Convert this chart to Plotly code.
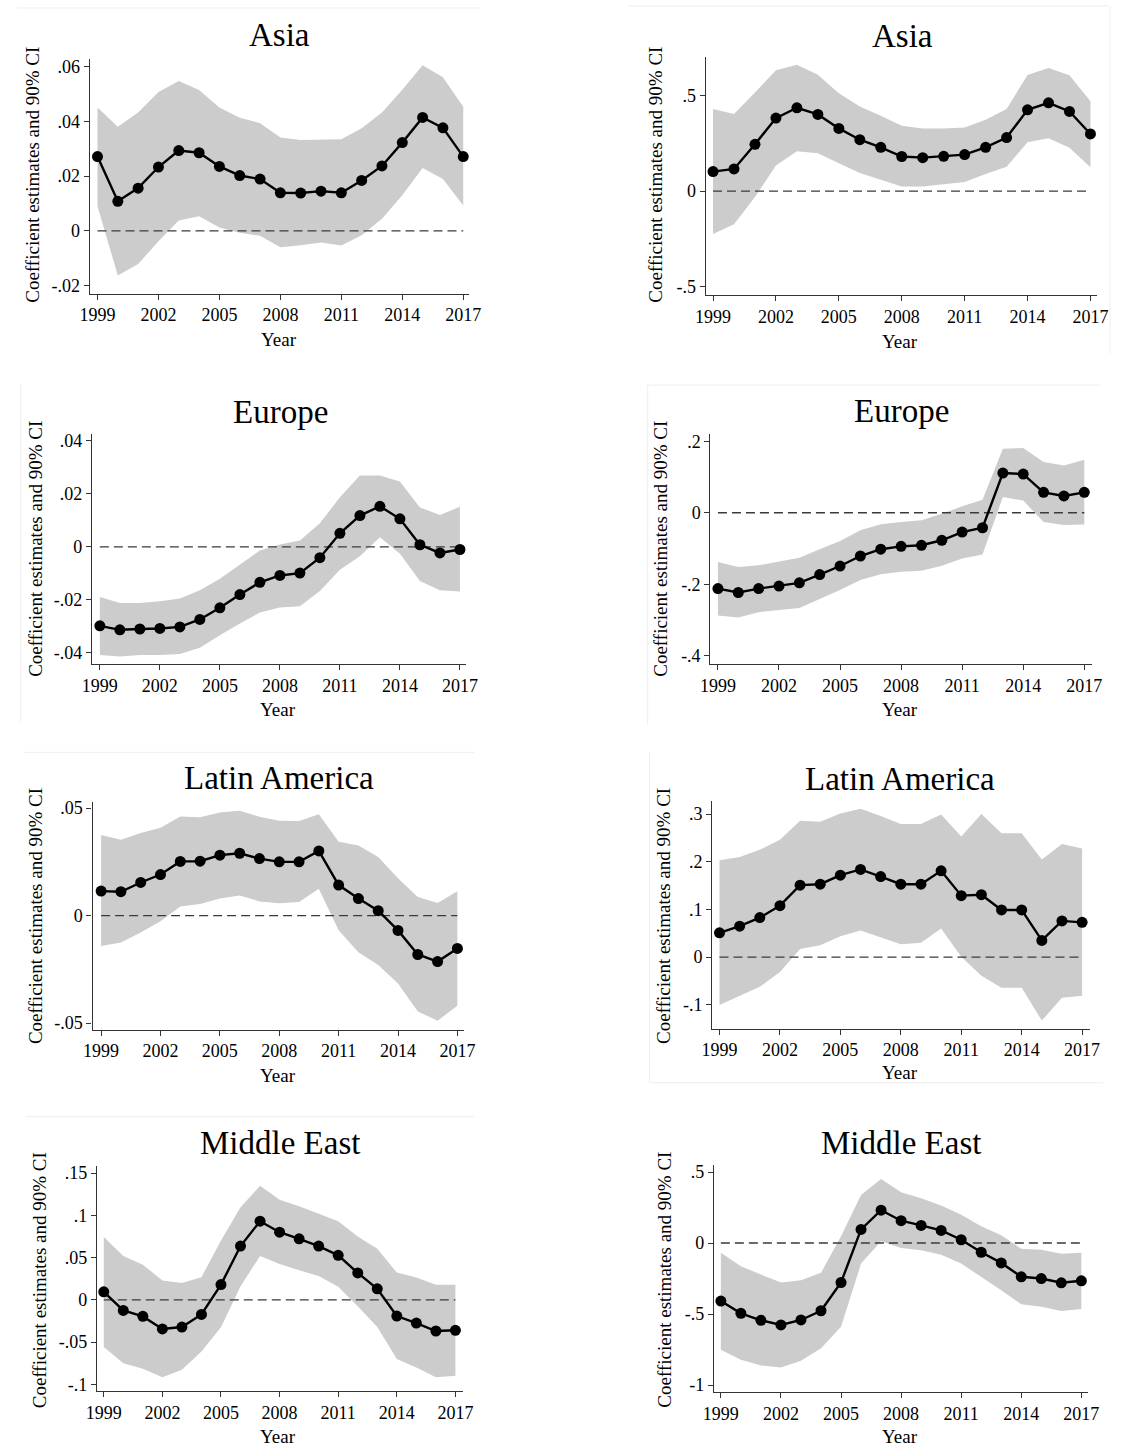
import plotly.graph_objects as go

W, H = 1124, 1451
FONT = "Liberation Serif"

years = list(range(1999, 2018))
x_ticks = [1999, 2002, 2005, 2008, 2011, 2014, 2017]

# ---------------- data ----------------
asia_l_coef = [0.0271, 0.0108, 0.0156, 0.0233, 0.0293, 0.0285, 0.0235, 0.0202, 0.0189, 0.0139, 0.0138, 0.0145, 0.0139, 0.0184, 0.0237, 0.0322, 0.0414, 0.0376, 0.0271]
asia_l_hi = [0.0450, 0.0380, 0.0432, 0.0507, 0.0547, 0.0514, 0.0450, 0.0413, 0.0393, 0.0341, 0.0332, 0.0332, 0.0334, 0.0374, 0.0432, 0.0515, 0.0604, 0.0560, 0.0453]
asia_l_lo = [0.0090, -0.0163, -0.0121, -0.0038, 0.0038, 0.0053, 0.0012, -0.0007, -0.0018, -0.0060, -0.0052, -0.0042, -0.0053, -0.0016, 0.0044, 0.0130, 0.0229, 0.0189, 0.0093]

asia_r_coef = [0.102, 0.116, 0.245, 0.382, 0.436, 0.401, 0.328, 0.269, 0.229, 0.181, 0.175, 0.182, 0.191, 0.229, 0.280, 0.425, 0.462, 0.417, 0.299]
asia_r_hi = [0.429, 0.403, 0.516, 0.632, 0.661, 0.609, 0.512, 0.443, 0.394, 0.342, 0.328, 0.328, 0.333, 0.373, 0.429, 0.608, 0.644, 0.606, 0.470]
asia_r_lo = [-0.224, -0.174, -0.031, 0.134, 0.208, 0.198, 0.146, 0.095, 0.059, 0.024, 0.024, 0.036, 0.047, 0.089, 0.128, 0.255, 0.276, 0.227, 0.125]

europe_l_coef = [-0.0298, -0.0313, -0.0310, -0.0308, -0.0302, -0.0274, -0.0230, -0.0180, -0.0134, -0.0108, -0.0099, -0.0041, 0.0051, 0.0118, 0.0153, 0.0106, 0.0008, -0.0023, -0.0010]
europe_l_hi = [-0.0189, -0.0212, -0.0212, -0.0205, -0.0195, -0.0164, -0.0120, -0.0068, -0.0014, 0.0009, 0.0024, 0.0089, 0.0187, 0.0269, 0.0269, 0.0247, 0.0149, 0.0120, 0.0151]
europe_l_lo = [-0.0408, -0.0414, -0.0408, -0.0408, -0.0404, -0.0381, -0.0334, -0.0289, -0.0248, -0.0229, -0.0224, -0.0167, -0.0086, -0.0035, 0.0036, -0.0026, -0.0129, -0.0164, -0.0168]

europe_r_coef = [-0.212, -0.223, -0.212, -0.205, -0.196, -0.173, -0.149, -0.121, -0.102, -0.094, -0.091, -0.077, -0.054, -0.042, 0.111, 0.108, 0.057, 0.047, 0.057]
europe_r_hi = [-0.138, -0.152, -0.147, -0.137, -0.126, -0.102, -0.079, -0.049, -0.032, -0.026, -0.021, -0.003, 0.018, 0.036, 0.179, 0.181, 0.142, 0.132, 0.148]
europe_r_lo = [-0.287, -0.293, -0.278, -0.272, -0.266, -0.241, -0.216, -0.188, -0.172, -0.165, -0.162, -0.148, -0.128, -0.117, 0.044, 0.034, -0.026, -0.034, -0.033]

latam_l_coef = [0.0114, 0.0111, 0.0154, 0.0191, 0.0252, 0.0253, 0.0281, 0.0290, 0.0265, 0.0250, 0.0250, 0.0301, 0.0142, 0.0079, 0.0023, -0.0069, -0.0181, -0.0214, -0.0153]
latam_l_hi = [0.0375, 0.0353, 0.0384, 0.0409, 0.0461, 0.0457, 0.0480, 0.0488, 0.0460, 0.0441, 0.0440, 0.0472, 0.0344, 0.0326, 0.0272, 0.0174, 0.0086, 0.0059, 0.0113]
latam_l_lo = [-0.0142, -0.0125, -0.0079, -0.0026, 0.0042, 0.0054, 0.0079, 0.0094, 0.0066, 0.0057, 0.0063, 0.0125, -0.0068, -0.0171, -0.0230, -0.0316, -0.0446, -0.0489, -0.0420]

latam_r_coef = [0.051, 0.065, 0.083, 0.108, 0.151, 0.153, 0.172, 0.184, 0.169, 0.153, 0.153, 0.181, 0.129, 0.131, 0.099, 0.099, 0.035, 0.076, 0.073]
latam_r_hi = [0.203, 0.210, 0.225, 0.246, 0.286, 0.284, 0.301, 0.311, 0.296, 0.279, 0.279, 0.299, 0.253, 0.300, 0.260, 0.260, 0.205, 0.237, 0.228]
latam_r_lo = [-0.100, -0.081, -0.062, -0.031, 0.017, 0.025, 0.044, 0.056, 0.042, 0.027, 0.030, 0.060, 0.001, -0.039, -0.064, -0.064, -0.133, -0.085, -0.081]

mideast_l_coef = [0.0094, -0.0126, -0.0196, -0.0345, -0.0322, -0.0173, 0.0180, 0.0636, 0.0930, 0.0800, 0.0722, 0.0636, 0.0526, 0.0318, 0.0130, -0.0192, -0.0275, -0.0369, -0.0361]
mideast_l_hi = [0.0742, 0.0518, 0.0416, 0.0228, 0.0200, 0.0267, 0.0703, 0.1095, 0.1350, 0.1185, 0.1107, 0.1017, 0.0930, 0.0750, 0.0604, 0.0322, 0.0263, 0.0177, 0.0177]
mideast_l_lo = [-0.0557, -0.0750, -0.0816, -0.0915, -0.0828, -0.0612, -0.0326, 0.0161, 0.0518, 0.0424, 0.0349, 0.0283, 0.0153, -0.0075, -0.0322, -0.0699, -0.0800, -0.0915, -0.0899]

mideast_r_coef = [-0.409, -0.495, -0.544, -0.577, -0.542, -0.477, -0.278, 0.096, 0.231, 0.157, 0.124, 0.089, 0.023, -0.065, -0.140, -0.238, -0.250, -0.280, -0.266]
mideast_r_hi = [-0.068, -0.164, -0.222, -0.278, -0.262, -0.210, 0.047, 0.339, 0.451, 0.357, 0.315, 0.264, 0.199, 0.119, 0.054, -0.040, -0.047, -0.075, -0.068]
mideast_r_lo = [-0.752, -0.822, -0.862, -0.876, -0.829, -0.741, -0.589, -0.145, 0.012, -0.035, -0.051, -0.082, -0.145, -0.238, -0.332, -0.432, -0.449, -0.479, -0.465]

asia_l_yticks = [-0.02, 0, 0.02, 0.04, 0.06]
asia_l_ylabels = ["-.02", "0", ".02", ".04", ".06"]
asia_r_yticks = [-0.5, 0, 0.5]
asia_r_ylabels = ["-.5", "0", ".5"]
europe_l_yticks = [-0.04, -0.02, 0, 0.02, 0.04]
europe_l_ylabels = ["-.04", "-.02", "0", ".02", ".04"]
europe_r_yticks = [-0.4, -0.2, 0, 0.2]
europe_r_ylabels = ["-.4", "-.2", "0", ".2"]
latam_l_yticks = [-0.05, 0, 0.05]
latam_l_ylabels = ["-.05", "0", ".05"]
latam_r_yticks = [-0.1, 0, 0.1, 0.2, 0.3]
latam_r_ylabels = ["-.1", "0", ".1", ".2", ".3"]
mideast_l_yticks = [-0.1, -0.05, 0, 0.05, 0.1, 0.15]
mideast_l_ylabels = ["-.1", "-.05", "0", ".05", ".1", ".15"]
mideast_r_yticks = [-1, -0.5, 0, 0.5]
mideast_r_ylabels = ["-1", "-.5", "0", ".5"]

titles = ["Asia", "Asia", "Europe", "Europe", "Latin America", "Latin America", "Middle East", "Middle East"]
y_title = "Coefficient estimates and 90% CI"
x_title = "Year"

# ---------------- layout (pixel geometry) ----------------
panels = [
    dict(coef=asia_l_coef, lo=asia_l_lo, hi=asia_l_hi, yt=asia_l_yticks, yl=asia_l_ylabels,
         xpx=(80.3, 468), ypx=(56, 292), xr=(1998.614, 2017.304), yr=(-0.02287, 0.0628),
         t=(274.5, 32), yti=(22, 173), xti=(274, 338)),
    dict(coef=asia_r_coef, lo=asia_r_lo, hi=asia_r_hi, yt=asia_r_yticks, yl=asia_r_ylabels,
         xpx=(709.3, 1109), ypx=(54, 293.3), xr=(1998.654, 2017.327), yr=(-0.543, 0.703),
         t=(909.7, 33), yti=(658, 173), xti=(908, 340)),
    dict(coef=europe_l_coef, lo=europe_l_lo, hi=europe_l_hi, yt=europe_l_yticks, yl=europe_l_ylabels,
         xpx=(82.7, 465), ypx=(432.7, 664.3), xr=(1998.608, 2017.328), yr=(-0.04424, 0.04274),
         t=(274.7, 411), yti=(25, 548), xti=(273, 710)),
    dict(coef=europe_r_coef, lo=europe_r_lo, hi=europe_r_hi, yt=europe_r_yticks, yl=europe_r_ylabels,
         xpx=(714, 1103.3), ypx=(433.3, 664), xr=(1998.629, 2017.366), yr=(-0.4223, 0.2195),
         t=(908.8, 410), yti=(663, 548), xti=(908, 710)),
    dict(coef=latam_l_coef, lo=latam_l_lo, hi=latam_l_hi, yt=latam_l_yticks, yl=latam_l_ylabels,
         xpx=(83.3, 462.7), ypx=(802.7, 1031.7), xr=(1998.570, 2017.346), yr=(-0.0531, 0.05292),
         t=(273.3, 779), yti=(25, 917), xti=(273, 1078)),
    dict(coef=latam_r_coef, lo=latam_r_lo, hi=latam_r_hi, yt=latam_r_yticks, yl=latam_r_ylabels,
         xpx=(716, 1101.7), ypx=(802.3, 1030.7), xr=(1998.645, 2017.399), yr=(-0.150, 0.3265),
         t=(907.3, 780), yti=(666, 917), xti=(908, 1075)),
    dict(coef=mideast_l_coef, lo=mideast_l_lo, hi=mideast_l_hi, yt=mideast_l_yticks, yl=mideast_l_ylabels,
         xpx=(87.7, 461), ypx=(1168.3, 1395), xr=(1998.649, 2017.366), yr=(-0.1082, 0.1587),
         t=(274.3, 1146), yti=(29, 1283), xti=(273, 1440)),
    dict(coef=mideast_r_coef, lo=mideast_r_lo, hi=mideast_r_hi, yt=mideast_r_yticks, yl=mideast_r_ylabels,
         xpx=(717.7, 1100), ypx=(1167.7, 1395.7), xr=(1998.658, 2017.357), yr=(-1.049, 0.549),
         t=(908.7, 1146), yti=(667.5, 1283), xti=(908, 1440)),
]

fig = go.Figure()
annotations = []
layout_axes = {}

for i, p in enumerate(panels, start=1):
    xa = "x" if i == 1 else f"x{i}"
    ya = "y" if i == 1 else f"y{i}"
    # CI band
    fig.add_trace(go.Scatter(x=years, y=p["lo"], mode="lines", line=dict(width=0, color="#cccccc"),
                             xaxis=xa, yaxis=ya, showlegend=False, hoverinfo="skip"))
    fig.add_trace(go.Scatter(x=years, y=p["hi"], mode="lines", line=dict(width=0, color="#cccccc"),
                             fill="tonexty", fillcolor="#cccccc",
                             xaxis=xa, yaxis=ya, showlegend=False, hoverinfo="skip"))
    # zero reference line
    fig.add_trace(go.Scatter(x=[years[0], years[-1]], y=[0, 0], mode="lines",
                             line=dict(color="#3a3a3a", width=1.3, dash="9px,5px"),
                             xaxis=xa, yaxis=ya, showlegend=False, hoverinfo="skip"))
    # estimates
    fig.add_trace(go.Scatter(x=years, y=p["coef"], mode="lines+markers",
                             line=dict(color="black", width=2.4),
                             marker=dict(color="black", size=11),
                             xaxis=xa, yaxis=ya, showlegend=False))

    xkey = "xaxis" if i == 1 else f"xaxis{i}"
    ykey = "yaxis" if i == 1 else f"yaxis{i}"
    x0, x1 = p["xpx"]
    y0, y1 = p["ypx"]
    common = dict(showline=True, linecolor="#333333", linewidth=1.3, ticks="outside",
                  ticklen=5, tickwidth=1.2, tickcolor="#333333", showgrid=False, zeroline=False,
                  tickfont=dict(family=FONT, size=18, color="black"), fixedrange=True)
    layout_axes[xkey] = dict(domain=[x0 / W, x1 / W], range=list(p["xr"]), anchor=ya,
                             tickmode="array", tickvals=x_ticks,
                             ticktext=[str(v) for v in x_ticks], **common)
    layout_axes[ykey] = dict(domain=[1 - y1 / H, 1 - y0 / H], range=list(p["yr"]), anchor=xa,
                             tickmode="array", tickvals=p["yt"], ticktext=p["yl"], tickangle=0, **common)

    annotations.append(dict(text=titles[i - 1], x=p["t"][0] / W, y=1 - p["t"][1] / H,
                            xref="paper", yref="paper", xanchor="center", yanchor="middle",
                            showarrow=False, font=dict(family=FONT, size=33, color="black")))
    annotations.append(dict(text=y_title, x=p["yti"][0] / W, y=1 - p["yti"][1] / H,
                            xref="paper", yref="paper", xanchor="center", yanchor="middle",
                            textangle=-90, showarrow=False,
                            font=dict(family=FONT, size=19, color="black")))
    annotations.append(dict(text=x_title, x=p["xti"][0] / W, y=1 - p["xti"][1] / H,
                            xref="paper", yref="paper", xanchor="center", yanchor="middle",
                            showarrow=False, font=dict(family=FONT, size=19, color="black")))

# faint borders of the embedded sub-images
border_segments = [
    (6, 5, 480, 5), (630, 3, 1120, 3), (1122, 3, 1122, 352),
    (10, 382, 10, 722), (650, 384, 1112, 384), (650, 384, 650, 725),
    (13, 753, 473, 753), (652, 753, 652, 1085), (652, 1085, 1115, 1085),
    (15, 1119, 473, 1119),
]
shapes = [dict(type="line", xref="paper", yref="paper", x0=a / W, y0=1 - b / H, x1=c / W, y1=1 - d / H,
               line=dict(color="#eeeeee", width=1), layer="below") for a, b, c, d in border_segments]

fig.update_layout(width=W, height=H, autosize=False, margin=dict(l=0, r=0, t=0, b=0),
                  paper_bgcolor="white", plot_bgcolor="white", showlegend=False,
                  annotations=annotations, shapes=shapes, font=dict(family=FONT, color="black"),
                  **layout_axes)

fig.write_html("out.html")
